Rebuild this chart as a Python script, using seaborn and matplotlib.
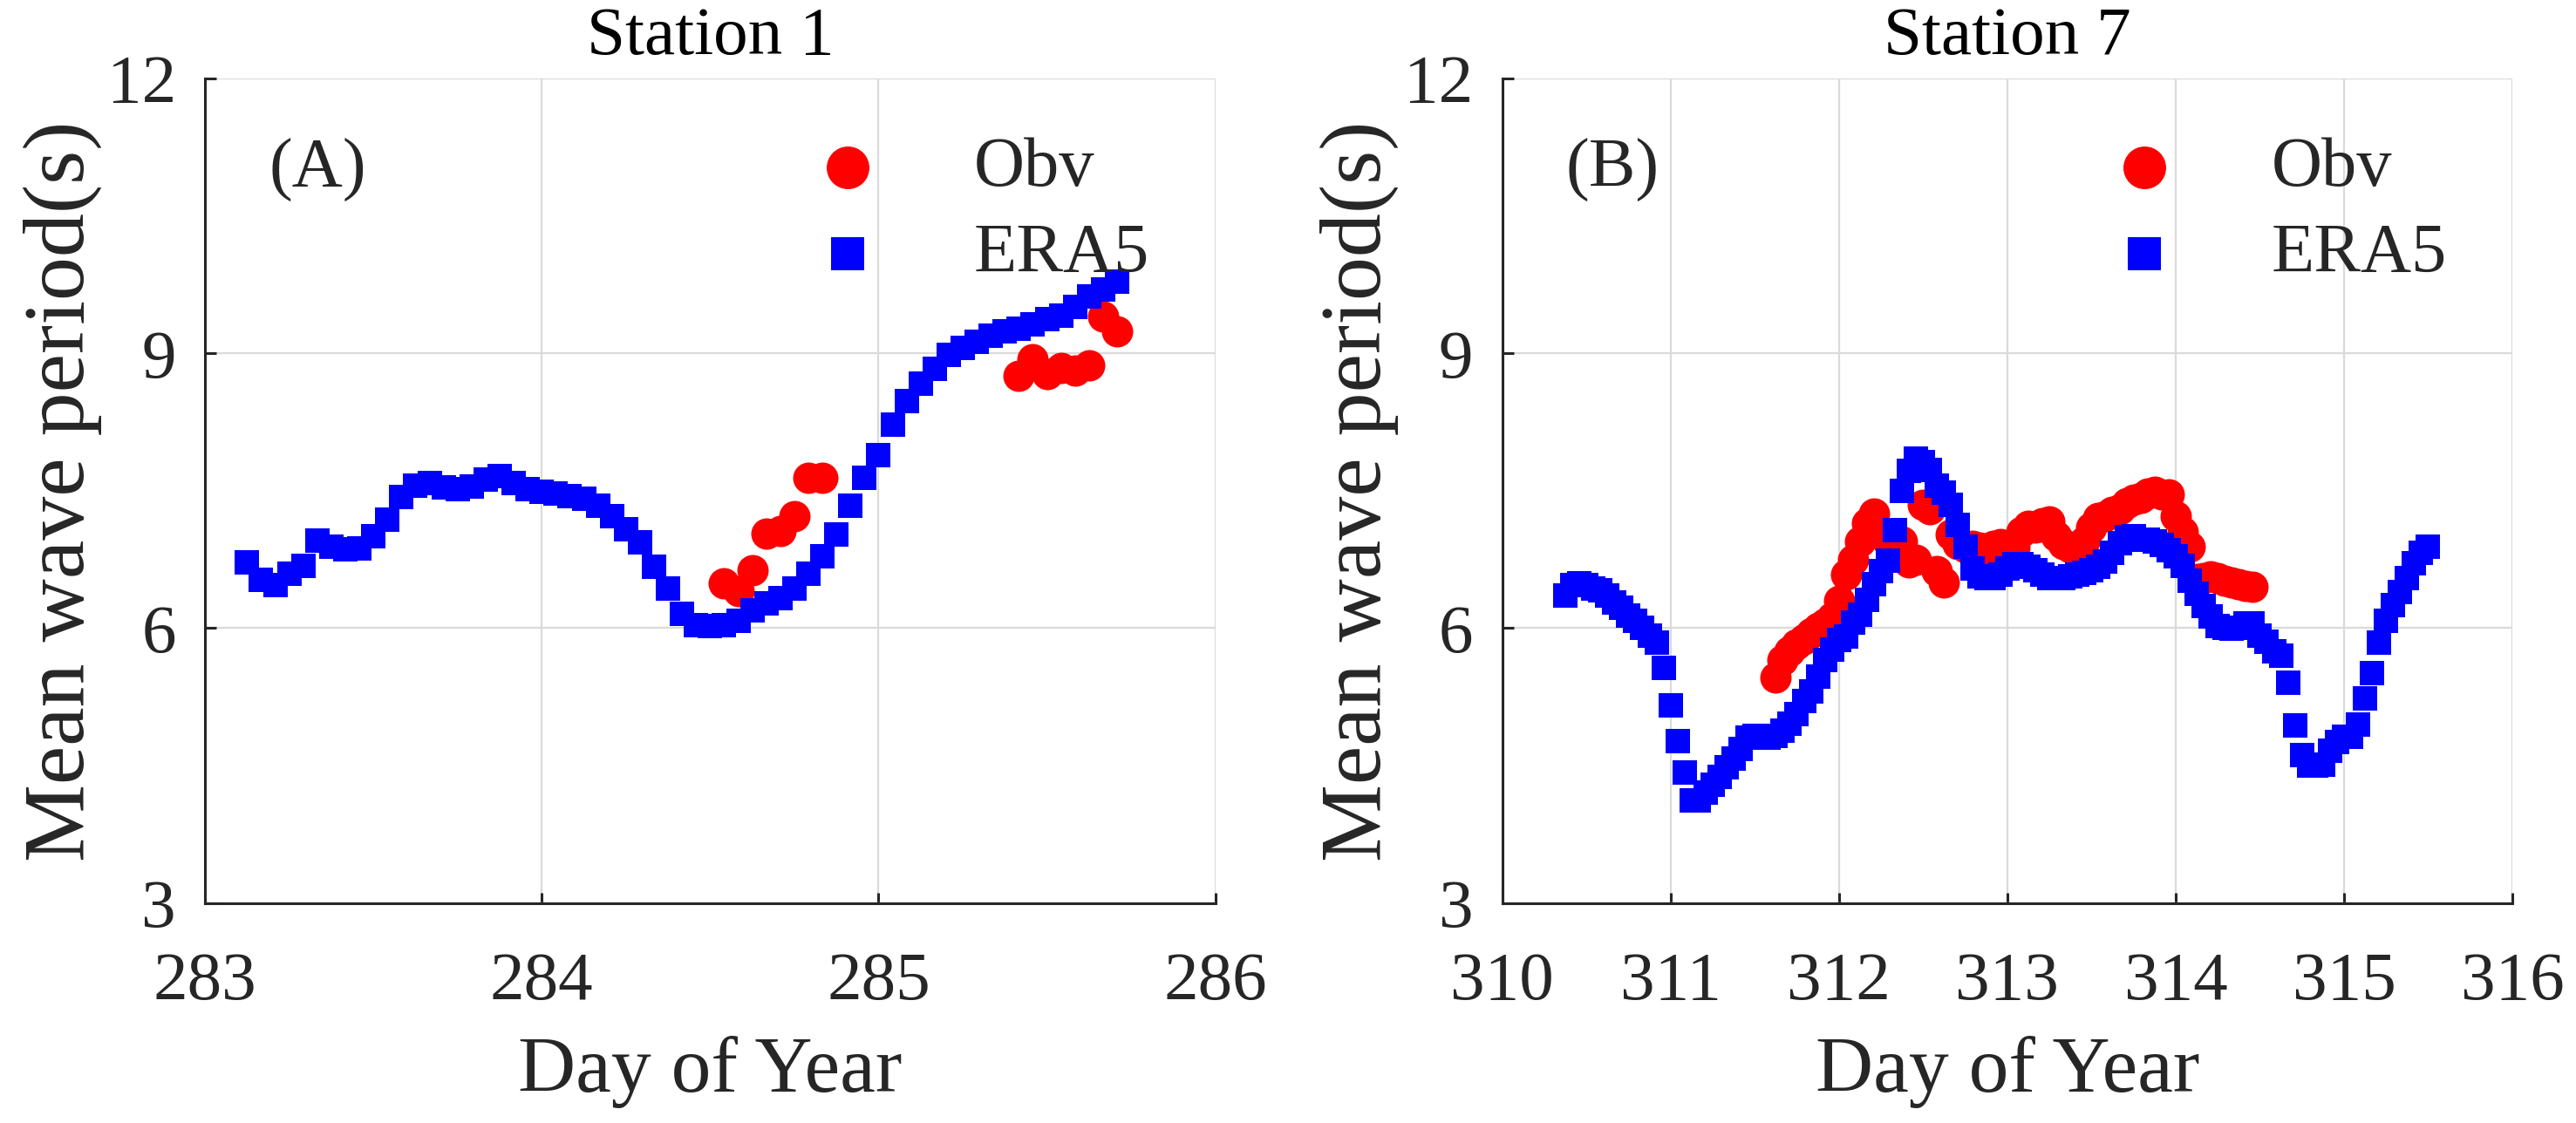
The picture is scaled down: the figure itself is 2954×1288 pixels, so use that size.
import pandas as pd
import matplotlib
matplotlib.use("Agg")
import matplotlib.pyplot as plt
import seaborn as sns

# Station 1: hours counted from day 283 00:00
era5_1_hour = [3, 4, 5, 6, 7, 8, 9, 10, 11, 12, 13, 14, 15, 16, 17, 18, 19, 20, 21, 22,
               23, 24, 25, 26, 27, 28, 29, 30, 31, 32, 33, 34, 35, 36, 37, 38, 39, 40, 41, 42,
               43, 44, 45, 46, 47, 48, 49, 50, 51, 52, 53, 54, 55, 56, 57, 58, 59, 60, 61, 62,
               63, 64, 65]
era5_1_tm = [6.72, 6.53, 6.47, 6.59, 6.68, 6.96, 6.89, 6.86, 6.87, 7.00,
             7.18, 7.43, 7.56, 7.58, 7.54, 7.52, 7.55, 7.62, 7.66, 7.58,
             7.52, 7.49, 7.47, 7.44, 7.41, 7.34, 7.22, 7.08, 6.94, 6.67,
             6.43, 6.16, 6.03, 6.02, 6.03, 6.08, 6.19, 6.27, 6.33, 6.43,
             6.59, 6.78, 7.02, 7.34, 7.64, 7.89, 8.22, 8.48, 8.67, 8.83,
             8.98, 9.06, 9.13, 9.19, 9.24, 9.27, 9.32, 9.37, 9.41, 9.51,
             9.62, 9.70, 9.78]
obv_1_hour = [37, 38, 39, 40, 41, 42, 43, 44, 58, 59, 60, 61, 62, 63, 64, 65]
obv_1_tm = [6.49, 6.40, 6.63, 7.03, 7.06, 7.22, 7.64, 7.64,
            8.76, 8.94, 8.77, 8.84, 8.81, 8.87, 9.40, 9.24]

# Station 7: hours counted from day 310 00:00
era5_7_hour = [9, 10, 11, 12, 13, 14, 15, 16, 17, 18, 19, 20, 21, 22, 23, 24, 25, 26, 27, 28,
               29, 30, 31, 32, 33, 34, 35, 36, 37, 38, 39, 40, 41, 42, 43, 44, 45, 46, 47, 48,
               49, 50, 51, 52, 53, 54, 55, 56, 57, 58, 59, 60, 61, 62, 63, 64, 65, 66, 67, 68,
               69, 70, 71, 72, 73, 74, 75, 76, 77, 78, 79, 80, 81, 82, 83, 84, 85, 86, 87, 88,
               89, 90, 91, 92, 93, 94, 95, 96, 97, 98, 99, 100, 101, 102, 103, 104, 105, 106, 107, 108,
               109, 110, 111, 112, 113, 114, 115, 116, 117, 118, 119, 120, 121, 122, 123, 124, 125, 126, 127, 128,
               129, 130, 131, 132]
era5_7_tm = [6.36, 6.47, 6.49, 6.47, 6.43, 6.41, 6.36, 6.28, 6.22, 6.14,
             6.08, 6.00, 5.92, 5.84, 5.57, 5.16, 4.77, 4.42, 4.12, 4.12,
             4.20, 4.29, 4.38, 4.48, 4.58, 4.68, 4.80, 4.82, 4.80, 4.80,
             4.82, 4.88, 4.96, 5.06, 5.20, 5.31, 5.47, 5.65, 5.77, 5.87,
             5.91, 6.06, 6.15, 6.31, 6.48, 6.62, 6.74, 7.07, 7.50, 7.72,
             7.85, 7.81, 7.73, 7.56, 7.48, 7.35, 7.13, 6.89, 6.65, 6.57,
             6.55, 6.55, 6.58, 6.65, 6.70, 6.70, 6.67, 6.63, 6.58, 6.55,
             6.55, 6.55, 6.57, 6.58, 6.60, 6.63, 6.67, 6.73, 6.82, 6.93,
             6.99, 7.00, 6.97, 6.97, 6.95, 6.91, 6.85, 6.78, 6.68, 6.52,
             6.38, 6.24, 6.13, 6.02, 6.00, 5.99, 6.00, 6.05, 6.05, 5.92,
             5.85, 5.75, 5.70, 5.40, 4.94, 4.61, 4.50, 4.50, 4.51, 4.66,
             4.76, 4.81, 4.81, 4.95, 5.23, 5.51, 5.84, 6.08, 6.25, 6.39,
             6.55, 6.71, 6.82, 6.89]
obv_7_hour = [39, 40, 41, 42, 43, 44, 45, 46, 47, 48, 49, 50, 51, 52, 53, 54, 55, 56, 57, 58,
              59, 60, 61, 62, 63, 64, 65, 66, 67, 68, 69, 70, 71, 72, 73, 74, 75, 76, 77, 78,
              79, 80, 81, 82, 83, 84, 85, 86, 87, 88, 89, 90, 91, 92, 93, 94, 95, 96, 97, 98,
              99, 100, 101, 102, 103, 104, 105, 106, 107]
obv_7_tm = [5.46, 5.65, 5.75, 5.82, 5.88, 5.95, 6.00, 6.05, 6.12, 6.30,
            6.58, 6.75, 6.95, 7.15, 7.25, 7.05, 6.95, 6.85, 6.95, 6.72,
            6.75, 7.35, 7.30, 6.62, 6.50, 7.02, 6.92, 6.88, 6.90, 6.88,
            6.85, 6.90, 6.92, 6.90, 6.88, 7.05, 7.12, 7.10, 7.15, 7.17,
            7.00, 6.92, 6.88, 6.86, 6.95, 7.10, 7.20, 7.22, 7.27, 7.30,
            7.37, 7.40, 7.42, 7.47, 7.49, 7.46, 7.46, 7.22, 7.05, 6.89,
            6.54, 6.55, 6.57, 6.55, 6.52, 6.50, 6.48, 6.46, 6.45]

panels = [
    dict(title='Station 1', tag='(A)', day0=283, xticks=[283, 284, 285, 286],
         era_h=era5_1_hour, era_v=era5_1_tm, obv_h=obv_1_hour, obv_v=obv_1_tm),
    dict(title='Station 7', tag='(B)', day0=310, xticks=[310, 311, 312, 313, 314, 315, 316],
         era_h=era5_7_hour, era_v=era5_7_tm, obv_h=obv_7_hour, obv_v=obv_7_tm),
]

sns.set_style("ticks")
plt.rcParams['font.family'] = ['Liberation Serif', 'DejaVu Serif']

fig, axes = plt.subplots(1, 2, figsize=(14.77, 6.44), dpi=200)
fig.subplots_adjust(left=0.0796, right=0.9753, bottom=0.196, top=0.930, wspace=0.284)

for ax, p in zip(axes, panels):
    # hours -> day of year
    obv = pd.DataFrame({'day': [p['day0'] + h / 24 for h in p['obv_h']], 'tm': p['obv_v']})
    era = pd.DataFrame({'day': [p['day0'] + h / 24 for h in p['era_h']], 'tm': p['era_v']})

    sns.scatterplot(data=obv, x='day', y='tm', ax=ax, color='#ff0000', marker='o',
                    s=168, linewidth=0, label='Obv', zorder=3)
    sns.scatterplot(data=era, x='day', y='tm', ax=ax, color='#0000ff', marker='s',
                    s=98, linewidth=0, label='ERA5', zorder=4)

    ax.set_xlim(p['xticks'][0], p['xticks'][-1])
    ax.set_ylim(3, 12)
    ax.set_xticks(p['xticks'])
    ax.set_yticks([3, 6, 9, 12])
    ax.grid(True, color='#dadada', linewidth=0.8)
    ax.set_axisbelow(True)

    for side in ['top', 'right']:
        ax.spines[side].set_visible(False)
    for side in ['left', 'bottom']:
        ax.spines[side].set_color('#262626')
        ax.spines[side].set_linewidth(1.1)

    ax.tick_params(direction='in', length=4.5, width=1.1, colors='#262626',
                   labelsize=28.5, labelcolor='#262626')
    ax.tick_params(axis='x', pad=20)
    ax.tick_params(axis='y', pad=12)

    ax.set_xlabel('Day of Year', fontsize=33, color='#262626', labelpad=9)
    ax.set_ylabel('Mean wave period(s)', fontsize=36, color='#262626', labelpad=2)
    ax.set_title(p['title'], fontsize=28.5, color='black', pad=10)

    x0, x1 = p['xticks'][0], p['xticks'][-1]
    ax.text(x0 + 0.063 * (x1 - x0), 11.0, p['tag'], fontsize=29, va='center', ha='left')

    ax.legend(loc='upper right', bbox_to_anchor=(0.935, 0.93), frameon=False,
              fontsize=29, markerscale=1.36, handlelength=1.0, handletextpad=1.3,
              labelspacing=0.32, borderpad=0, borderaxespad=0)

fig.savefig('out.png', dpi=200)
